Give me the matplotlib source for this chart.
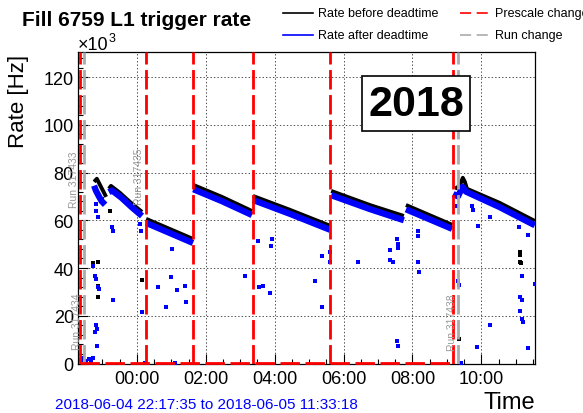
import numpy as np
import matplotlib.pyplot as plt
from matplotlib.lines import Line2D
from matplotlib.patches import Rectangle
from matplotlib.ticker import MultipleLocator, FuncFormatter

plt.rcParams['font.family'] = ['Liberation Sans', 'DejaVu Sans']
plt.rcParams['lines.scale_dashes'] = False

nan = np.nan

# time in hours relative to 2018-06-05 00:00, rate in kHz
t_start, t_end = -1.7069, 11.555

before_t = [-1.24, -1.16, -1.04, -0.95, -0.89, nan,
            -0.81, -0.75, -0.49, -0.20, 0.15, nan,
            0.27, 1.63, nan,
            1.64, 2.47, 3.34, nan,
            3.37, 4.44, 5.61, nan,
            5.64, 6.76, 7.75, nan,
            7.81, 9.15, nan,
            9.23, 9.37, 9.46, 9.52, 9.58, 10.53, 11.55]
before_v = [76.1, 77.4, 74.0, 71.5, 69.8, nan,
            73.2, 74.4, 71.5, 67.7, 63.5, nan,
            60.6, 52.2, nan,
            74.8, 69.8, 63.9, nan,
            70.2, 64.4, 57.7, nan,
            72.3, 66.4, 61.8, nan,
            66.4, 58.1, nan,
            73.2, 74.4, 77.8, 76.1, 73.2, 67.3, 59.7]

after_t = [-1.24, -1.19, -1.10, -1.02, -0.92, nan,
           -0.81, -0.72, -0.45, -0.15, 0.15, nan,
           0.27, 1.63, nan,
           1.64, 2.47, 3.34, nan,
           3.37, 4.44, 5.61, nan,
           5.64, 6.76, 7.75, nan,
           7.81, 9.15, nan,
           9.18, 9.32, 9.45, 9.55, 10.53, 11.55]
after_v = [74.5, 72.5, 70.0, 68.0, 66.5, nan,
           71.8, 72.5, 69.5, 65.5, 61.8, nan,
           58.9, 50.5, nan,
           73.0, 68.0, 62.2, nan,
           68.5, 62.7, 56.0, nan,
           70.5, 64.7, 60.0, nan,
           64.6, 56.4, nan,
           71.0, 70.0, 74.0, 72.0, 65.5, 57.9]

after_out_t = [-1.28, -1.22, -1.19, -1.13, -1.10, -0.70, 0.15, 0.61, 0.84, 0.99,
               1.16, 1.02, 1.39, 1.42, 3.13, 3.54, 3.66, 3.86, -1.22, -1.16,
               -1.16, -1.19, 3.51, 3.92, 3.89, 5.37, 5.17, 5.37, 5.60, 5.60,
               6.41, 7.34, 7.34, 7.43, 7.55, 7.57, 7.57, 8.15, 8.15, 8.15,
               8.18, 7.55, 7.57, 9.32, 9.34, 9.90, 10.24, 9.87, 11.35, 11.55,
               11.17, 11.11, 11.17, 11.11, 11.17, 11.20, 11.09, 11.35, 9.29, 9.72,
               9.75, 10.24, -1.19, -1.19, -1.13, -0.73, -0.70, 0.09, 0.12, -1.01,
               -1.62, -1.56, -1.48, -1.40, -1.32, -1.28, 0.23, 1.10, 9.40]
after_out_v = [40.9, 36.7, 35.4, 32.1, 31.2, 26.6, 21.6, 32.1, 23.7, 36.3,
               30.8, 48.0, 32.5, 25.8, 36.7, 32.1, 32.5, 29.6, 13.2, 14.5,
               7.3, 16.1, 51.4, 52.2, 49.3, 45.1, 34.6, 23.7, 46.8, 42.6,
               42.6, 47.6, 43.4, 42.6, 52.2, 50.1, 48.4, 55.6, 53.5, 42.6,
               38.4, 9.4, 7.3, 34.6, 32.9, 57.7, 16.1, 6.9, 6.5, 33.3,
               36.7, 27.9, 26.6, 22.0, 18.7, 17.4, 57.2, 53.9, 66.0, 66.0,
               64.4, 61.4, 66.9, 63.9, 61.4, 57.2, 55.6, 58.5, 55.6, 69.0,
               1.5, 2.2, 1.0, 1.8, 0.8, 2.5, 0.3, 0.3, 0.3]

before_out_t = [-1.28, -1.13, 0.15, -1.13, -0.78, 11.11, 11.13, 11.11, 11.14, 9.34, -1.13]
before_out_v = [42.1, 42.6, 35.0, 32.5, 63.9, 46.8, 45.5, 42.6, 42.0, 10.3, 27.9]

prescale_t = [-1.65, 0.26, 1.63, 3.37, 5.60, 9.17]
run_t = [-1.54, 9.32]
run_labels = ['Run 317433', 'Run 317434', 'Run 317435', 'Run 317438']
run_label_t = [-1.65, -1.54, 0.26, 9.32]
run_label_v = [77.6, 17.8, 78.5, 17.4]

W, H = 583, 414
fig = plt.figure(figsize=(W / 100, H / 100), dpi=100)


def fx(px):
    return px / W


def fy(py):
    return 1 - py / H


ax = fig.add_axes([fx(78), fy(364.5), fx(535) - fx(78), fy(53) - fy(364.5)])
ax.set_xlim(t_start, t_end)
ax.set_ylim(0, 130.5)
ax.set_axisbelow(True)
ax.grid(which='major', color='#333333', linestyle=(0, (1, 1.5)), linewidth=0.6)

ax.plot(before_t, before_v, color='black', lw=2.8, solid_capstyle='butt', zorder=3)
ax.plot(after_t, after_v, color='blue', lw=4.5, solid_capstyle='butt', zorder=4)
ax.plot(before_out_t, before_out_v, 's', color='black', ms=3, mew=0, zorder=3)
ax.plot(after_out_t, after_out_v, 's', color='blue', ms=3, mew=0, zorder=4)

for t in run_t:
    ax.axvline(t, color='#aaaaaa', lw=2, linestyle=(0, (14, 4)), zorder=5)
for t in prescale_t:
    ax.axvline(t, color='red', lw=2, linestyle=(0, (14, 4)), zorder=6)
ax.plot([prescale_t[0], prescale_t[-1]], [0.4, 0.4], color='red', lw=2,
        linestyle=(0, (14, 4)), zorder=6, clip_on=False)

for lab, t, v in zip(run_labels, run_label_t, run_label_v):
    ax.annotate(lab, (t, v), xytext=(-1, 0), textcoords='offset points',
                rotation=90, ha='right', va='center', fontsize=7.5,
                color='#999999', zorder=7)

ax.xaxis.set_major_locator(MultipleLocator(2))
ax.xaxis.set_minor_locator(MultipleLocator(0.5))
ax.xaxis.set_major_formatter(FuncFormatter(lambda h, p: '%02d:00' % (int(round(h)) % 24)))
ax.yaxis.set_major_locator(MultipleLocator(20))
ax.yaxis.set_minor_locator(MultipleLocator(4))
ax.yaxis.set_major_formatter(FuncFormatter(lambda v, p: '%d' % v))
ax.tick_params(which='both', direction='in', top=False, right=False, width=0.8, labelsize=13)
ax.tick_params(which='major', length=7.5)
ax.tick_params(which='minor', length=3.6)
ax.tick_params(axis='x', pad=5)
ax.tick_params(axis='y', pad=3)
for s in ax.spines.values():
    s.set_linewidth(0.9)

fig.text(fx(22), fy(20), 'Fill 6759 L1 trigger rate', fontsize=15,
         fontweight='bold', va='center')
fig.text(fx(78), fy(46), '×10', fontsize=13, va='center')
fig.text(fx(109), fy(39), '3', fontsize=9, va='center')
fig.text(fx(19), fy(55), 'Rate [Hz]', rotation=90, ha='center', va='top', fontsize=16)
fig.text(fx(535), fy(409), 'Time', ha='right', va='baseline', fontsize=17)
fig.text(fx(55), fy(405), '2018-06-04 22:17:35 to 2018-06-05 11:33:18',
         color='blue', fontsize=11, va='center')

# year box
fig.add_artist(Rectangle((fx(362), fy(132)), fx(470) - fx(362), fy(77) - fy(132),
                         transform=fig.transFigure, fc='white', ec='black', lw=1.2, zorder=10))
fig.text(fx(416), fy(105), '2018', fontsize=31, fontweight='bold',
         ha='center', va='center', zorder=11)

# legend
fig.add_artist(Line2D([fx(283), fx(313)], [fy(14), fy(14)], color='black', lw=1.2))
fig.add_artist(Line2D([fx(283), fx(313)], [fy(36), fy(36)], color='blue', lw=1.2))
fig.add_artist(Line2D([fx(460), fx(488)], [fy(14), fy(14)], color='red', lw=1.2,
                      linestyle=(0, (8, 4))))
fig.add_artist(Line2D([fx(460), fx(488)], [fy(36), fy(36)], color='#aaaaaa', lw=1.2,
                      linestyle=(0, (8, 4))))
fig.text(fx(318), fy(14), 'Rate before deadtime', fontsize=9, va='center')
fig.text(fx(318), fy(36), 'Rate after deadtime', fontsize=9, va='center')
fig.text(fx(495), fy(14), 'Prescale change', fontsize=9, va='center')
fig.text(fx(495), fy(36), 'Run change', fontsize=9, va='center')

fig.savefig('out.png', dpi=100)
